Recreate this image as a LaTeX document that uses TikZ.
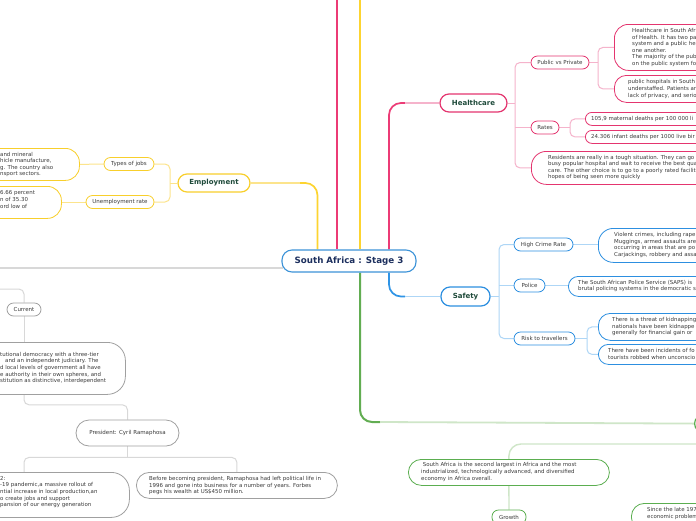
\documentclass[tikz,border=0pt]{standalone}
\usepackage{fontspec}
\setmainfont{DejaVu Sans}
\usetikzlibrary{calc,backgrounds}
\definecolor{txt}{HTML}{3A3A3A}
\definecolor{topictxt}{HTML}{1E4A3A}
\definecolor{ctext}{HTML}{1C2F5E}
\definecolor{cbord}{HTML}{3C93D8}
\definecolor{ybord}{HTML}{F8CF2C}
\definecolor{yline}{HTML}{FCE48C}
\definecolor{ytrunk}{HTML}{FDD430}
\definecolor{pbord}{HTML}{E4356F}
\definecolor{pline}{HTML}{F5B3CB}
\definecolor{ptrunk}{HTML}{EC3B76}
\definecolor{bbord}{HTML}{2D8FE0}
\definecolor{bline}{HTML}{AED6F6}
\definecolor{btrunk}{HTML}{2F94E6}
\definecolor{gbord}{HTML}{5BAE50}
\definecolor{gline}{HTML}{CFE6C8}
\definecolor{gtrunk}{HTML}{62AD52}
\definecolor{grbord}{HTML}{A0A0A0}
\definecolor{grline}{HTML}{D8D8D8}
\tikzset{
 pill/.style={draw, fill=white, inner sep=0pt, rounded corners=6.5pt, line width=0.8pt, text=txt, font=\fontsize{5.5}{6.6}\selectfont},
 topic/.style={draw, fill=white, inner sep=0pt, rounded corners=9pt, line width=1.2pt, font=\bfseries\fontsize{7}{8}\selectfont, text=topictxt},
 leafbox/.style={draw, fill=white, inner sep=0pt, line width=0.8pt, anchor=north west},
 leaftext/.style={inner sep=0pt, align=left, anchor=west, text=txt, font=\fontsize{5.45}{6.6}\selectfont},
 conn/.style={line width=1pt},
}
\begin{document}
\begin{tikzpicture}[x=1pt,y=-1pt]
\useasboundingbox (0,0) rectangle (696,520);

% centre
\node[draw=cbord, fill=white, line width=1.1pt, rounded corners=10pt, minimum width=134, minimum height=22, inner sep=0pt, font=\bfseries\fontsize{8.7}{10}\selectfont, text=ctext] (center) at (349,261) {South Africa : Stage 3};

% ---------------- Employment
\node[topic, draw=ybord, minimum width=72, minimum height=18] (emp) at (214,183) {Employment};
\node[pill, draw=ybord, minimum width=50, minimum height=13] (types) at (129,164) {Types of jobs};
\node[pill, draw=ybord, minimum width=68, minimum height=13] (unemp) at (120,202) {Unemployment rate};
\node[leafbox, draw=ybord, rounded corners=14pt, minimum width=109, minimum height=32] (typesleaf) at (-30,148) {};
\node[leaftext] (typestext) at (0,164.5) {and mineral\\hicle manufacture,\\g. The country also\\nsport sectors.};
\node[leafbox, draw=ybord, rounded corners=14pt, minimum width=91, minimum height=32] (unleaf) at (-30,186) {};
\node[leaftext] (untext) at (0,199.5) {6.66 percent\\n of 35.30\\ord low of};

% ---------------- Healthcare
\node[topic, draw=pbord, minimum width=67, minimum height=18] (hc) at (473.5,103) {Healthcare};
\node[pill, draw=pbord, minimum width=58, minimum height=13] (pvp) at (560,62.5) {Public vs Private};
\node[pill, draw=pbord, minimum width=28, minimum height=13] (rates) at (545,127.5) {Rates};
\node[leafbox, draw=pbord, rounded corners=14pt, minimum width=106, minimum height=46] (pvp1) at (614,24) {};
\node[leaftext] (pvp1t) at (632,47.5) {Healthcare in South Afr\\of Health. It has two pa\\system and a public he\\one another.\\The majority of the pub\\on the public system fo};
\node[leafbox, draw=pbord, rounded corners=12pt, minimum width=106, minimum height=27] (pvp2) at (614,75) {};
\node[leaftext] (pvp2t) at (628,89) {public hospitals in South\\understaffed. Patients ar\\lack of privacy, and serio};
\node[leafbox, draw=pbord, rounded corners=6.5pt, minimum width=135, minimum height=13] (rl1) at (585,112) {};
\node[leaftext] (rl1t) at (591,118.5) {105,9 maternal deaths per 100 000 li};
\node[leafbox, draw=pbord, rounded corners=6.5pt, minimum width=135, minimum height=13] (rl2) at (585,130) {};
\node[leaftext] (rl2t) at (591,136.5) {24.30\raisebox{-0.6pt}{6} infant deaths per 1000 live bir};
\node[leafbox, draw=pbord, rounded corners=15pt, minimum width=189, minimum height=33] (res) at (531,151) {};
\node[leaftext] (rest) at (548,167.5) {Residents are really in a tough situation. They can go\\busy popular hospital and wait to receive the best qua\\care. The other choice is to go to a poorly rated faciliti\\hopes of being seen more quickly};

% ---------------- Safety
\node[topic, draw=bbord, minimum width=49, minimum height=19] (saf) at (465.5,296.5) {Safety};
\node[pill, draw=bbord, minimum width=59, minimum height=13] (hcr) at (543.5,244.5) {High Crime Rate};
\node[pill, draw=bbord, minimum width=31, minimum height=13] (pol) at (529.5,285.5) {Police};
\node[pill, draw=bbord, minimum width=61, minimum height=13] (risk) at (544.5,338.5) {Risk to travellers};
\node[leafbox, draw=bbord, rounded corners=15pt, minimum width=122, minimum height=34] (hcrl) at (598,228) {};
\node[leaftext] (hcrlt) at (614,245) {Violent crimes, including rape\\Muggings, armed assaults are\\occurring in areas that are po\\Carjackings, robbery and assa};
\node[leafbox, draw=bbord, rounded corners=10pt, minimum width=152, minimum height=20] (poll) at (568,276) {};
\node[leaftext] (pollt) at (578,286) {The South African Police Service (SAPS) is\\brutal policing systems in the democratic s};
\node[leafbox, draw=bbord, rounded corners=12pt, minimum width=122, minimum height=27] (rk1) at (598,313) {};
\node[leaftext] (rk1t) at (612,326.5) {There is a threat of kidnapping\\nationals have been kidnappe\\generally for financial gain or};
\node[leafbox, draw=bbord, rounded corners=10pt, minimum width=122, minimum height=20] (rk2) at (598,344) {};
\node[leaftext] (rk2t) at (608,354) {There have been incidents of fo\\tourists robbed when unconscio};

% ---------------- Economy (green)
\node[leafbox, draw=gbord, line width=1.2pt, rounded corners=9pt, minimum width=60, minimum height=18] (econ) at (694,414) {};
\coordinate (econdown) at (700,444);
\node[leafbox, draw=gbord, rounded corners=13pt, minimum width=201, minimum height=26] (sa2) at (408,459) {};
\node[leaftext] (sa2t) at (421,472) {\ South Africa is the second largest in Africa and the most\\industrialized, technologically advanced, and diversified\\economy in Africa overall.};
\node[pill, draw=gbord, minimum width=34, minimum height=14] (growth) at (509,517) {Growth};
\node[leafbox, draw=gbord, rounded corners=13pt, minimum width=89, minimum height=27] (since) at (631,503) {};
\node[leaftext] (sincet) at (647,513.5) {Since the late 197\\economic problem};

% ---------------- Gray (politics)
\node[pill, draw=grbord, minimum width=34, minimum height=13] (cur) at (24,309.5) {Current};
\node[leafbox, draw=grbord, rounded corners=18pt, minimum width=155, minimum height=52] (const) at (-30,342) {};
\node[leaftext] (constt) at (0,368) {tutional democracy with a three-tier\\\hspace*{5pt}and an independent judiciary. The\\d local levels of government all have\\e authority in their own spheres, and\\stitution as distinctive, interdependent};
\node[pill, draw=grbord, rounded corners=13pt, minimum width=103, minimum height=26] (pres) at (127.5,433) {President: Cyril Ramaphosa};
\node[leafbox, draw=grbord, rounded corners=18pt, minimum width=159, minimum height=45] (leftn) at (-30,472) {};
\node[leaftext] (leftnt) at (0,492) {2:\\-19 pandemic,a massive rollout of\\ntial increase in local production,an\\o create jobs and support\\pansion of our energy generation};
\node[leafbox, draw=grbord, rounded corners=13pt, minimum width=201, minimum height=26] (rightn) at (136,472) {};
\node[leaftext] (rightnt) at (149,485.5) {Before becoming president, Ramaphosa had left political life in\\1996 and gone into business for a number of years. Forbes\\pegs his wealth at US\$450 million.};

\coordinate (toppink) at (337,-5);
\coordinate (topyel) at (360,-5);
\coordinate (grayend) at (-5,268);
\coordinate (grayin) at (-5,289);
\coordinate (J) at ($(pres.south)+(0,11)$);
\coordinate (ey) at (300,183);
\coordinate (hy) at (405,103);
\coordinate (sy) at (405,296.5);
\coordinate (gy) at (380,422);

\begin{pgfonlayer}{background}
\fill[white] (0,0) rectangle (696,520);
% trunks
\draw[ptrunk, line width=2.6pt] (toppink) -- (center.north -| toppink);
\draw[ytrunk, line width=2.4pt] (topyel) -- (center.north -| topyel);
\draw[ytrunk, line width=1.7pt, rounded corners=12pt] ($(center.north west)+(36,0)$) |- (ey);
\draw[yline, line width=1.5pt] (ey) -- (emp.east);
\draw[ptrunk, line width=1.7pt, rounded corners=12pt] ($(center.north)+(40,0)$) |- (hy);
\draw[pline, line width=1.5pt] (hy) -- (hc.west);
\draw[btrunk, line width=1.7pt, rounded corners=12pt] ($(center.south)+(40,0)$) |- (sy);
\draw[bline, line width=1.5pt] (sy) -- (saf.west);
\draw[gtrunk, line width=2pt, rounded corners=12pt] ($(center.south)+(11,0)$) |- (gy);
\draw[gline, line width=1.8pt] (gy) -- (econ.west);
\draw[grline, line width=1.6pt] ($(center.west)+(2,7)$) -- (grayend);

% employment
\draw[yline, conn] (emp.west) -- (170,183);
\draw[yline, conn, rounded corners=5pt] (types.east) -| (170,183) |- (unemp.east);
\draw[yline, conn] (types.west) -- (typesleaf.east);
\draw[yline, conn] (unemp.west) -- (unleaf.east |- unemp.west);

% healthcare
\draw[pline, conn] (hc.east) -- (515,103);
\draw[pline, conn, rounded corners=5pt] (pvp.west) -| (515,103) |- (res.west);
\draw[pline, conn] (rates.west) -- ++(-16,0);
\draw[pline, conn] (pvp.east) -- (598,62.5);
\draw[pline, conn, rounded corners=5pt] (pvp1.west) -| (598,62.5) |- (pvp2.west);
\draw[pline, conn] (rates.east) -- (570,127.5);
\draw[pline, conn, rounded corners=5pt] (rl1.west) -| (570,127.5) |- (rl2.west);

% safety
\draw[bline, conn] (saf.east) -- (499,296.5);
\draw[bline, conn, rounded corners=5pt] (hcr.west) -| (499,296.5) |- (risk.west);
\draw[bline, conn] (pol.west) -- ++(-15,0);
\draw[bline, conn] (hcr.east) -- (hcrl.west |- hcr.east);
\draw[bline, conn] (pol.east) -- (poll.west |- pol.east);
\draw[bline, conn] (risk.east) -- (587,338.5);
\draw[bline, conn, rounded corners=5pt] (rk1.west) -| (587,338.5) |- (rk2.west);

% economy
\draw[gline, line width=1.4pt, rounded corners=12pt] (econdown) -| (sa2.north);
\draw[gline, line width=1.4pt] (sa2.south) -- (growth.north);

% gray
\draw[grline, conn, rounded corners=5pt] (grayin) -| (cur.north);
\draw[grline, conn] (cur.south) -- (cur.south |- const.north);
\draw[grline, conn, rounded corners=5pt] (cur.south |- const.south) -- ++(0,10) -| (pres.north);
\draw[grline, conn] (pres.south) -- (J);
\draw[grline, conn, rounded corners=5pt] (cur.south |- leftn.north) |- (J) -| (rightn.north);
\end{pgfonlayer}
\end{tikzpicture}
\end{document}
